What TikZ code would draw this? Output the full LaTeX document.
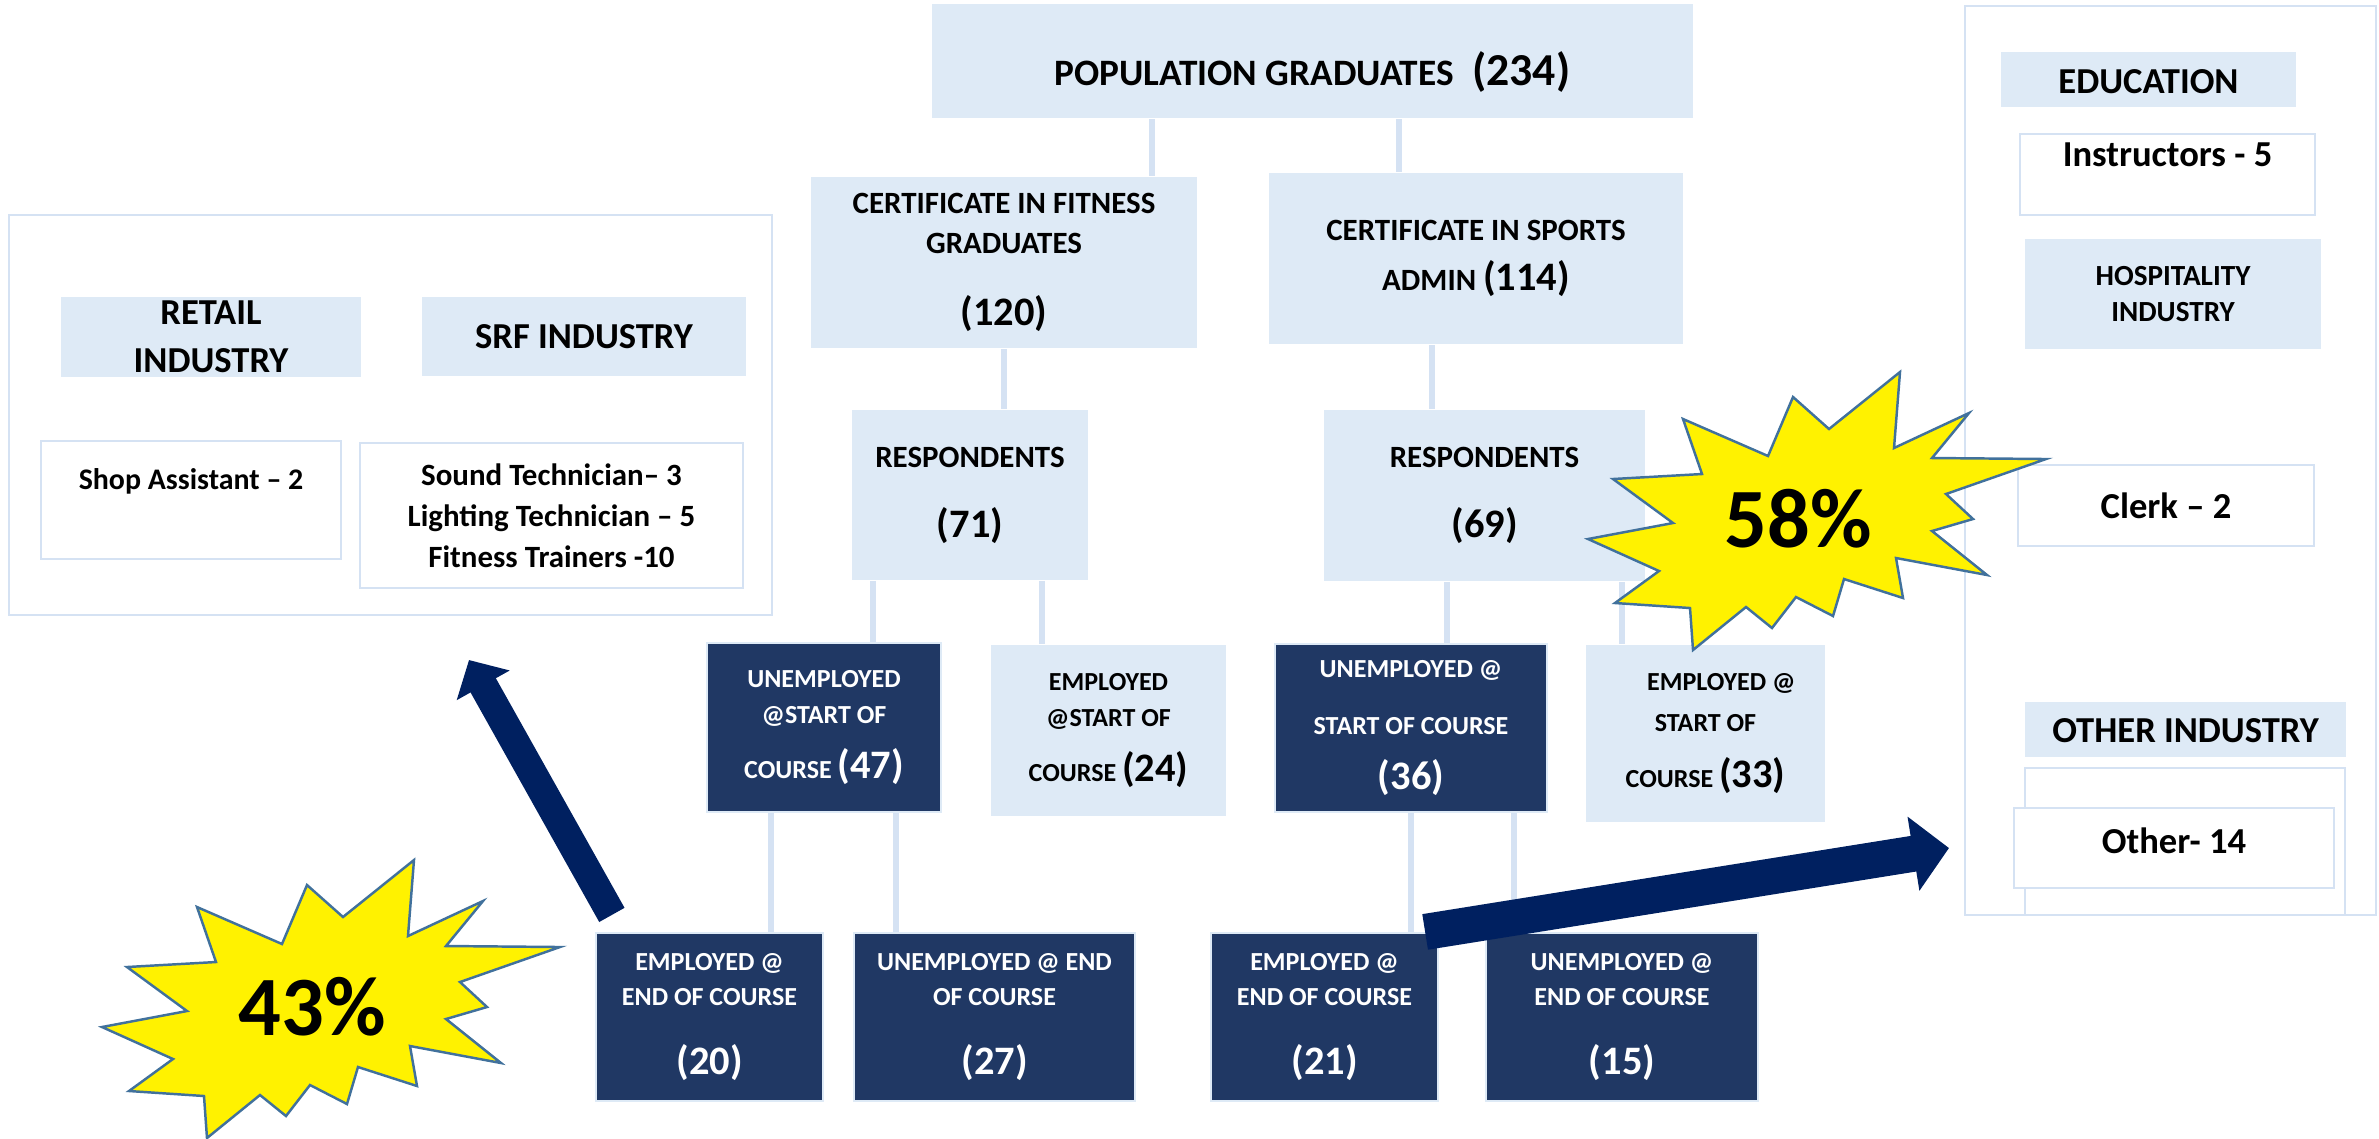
\documentclass[tikz,border=0pt]{standalone}
\usepackage{fontspec}
\setmainfont{Carlito}
\usepackage{tikz}
\usetikzlibrary{arrows.meta}

\definecolor{boxblue}{RGB}{222,234,246}
\definecolor{lineblue}{RGB}{213,226,243}
\definecolor{navybox}{RGB}{32,56,100}
\definecolor{navy}{RGB}{0,32,96}
\definecolor{starline}{RGB}{65,113,156}

\newcommand{\sized}[2]{{\fontsize{#1}{#1}\selectfont #2}}
\newcommand{\burstpath}{(102,-147) -- (96,-71) -- (171,-106) -- (134,-61) -- (248,-60)
  -- (148,-25) -- (175,0) -- (134,12) -- (189,56) -- (98,39) -- (105,79) -- (46,60)
  -- (35,97) -- (-2,78) -- (-26,109) -- (-52,88) -- (-105,131) -- (-108,89) -- (-183,84)
  -- (-139,52) -- (-210,20) -- (-125,4) -- (-185,-40) -- (-96,-45) -- (-115,-100)
  -- (-30,-63) -- (-5,-122) -- (31,-90) -- cycle}

\begin{document}
\begin{tikzpicture}[x=0.01cm, y=-0.01cm,
    lightbox/.style={fill=boxblue, inner sep=0pt, align=center},
    darkbox/.style={fill=navybox, draw=boxblue, line width=0.6pt, text=white, inner sep=0pt, align=center},
    whitebox/.style={fill=white, draw=lineblue, line width=0.6pt, inner sep=0pt, align=center},
    panel/.style={draw=lineblue, line width=0.6pt, inner sep=0pt},
    link/.style={draw=lineblue, line width=1.7pt},
    midtext/.style={font=\bfseries\fontsize{8.8}{11.5}\selectfont},
    smalltext/.style={font=\bfseries\fontsize{7.4}{10}\selectfont},
    headtext/.style={font=\bfseries\fontsize{10.4}{13.7}\selectfont},
    burst/.style={fill=yellow, draw=starline, line width=0.7pt},
    bigarrow/.style={draw=navy}]
    \useasboundingbox (0,0) rectangle (2379,1138);

    % side panels
    \node (retailpanel) [panel, minimum width=7.63cm, minimum height=4cm] at (390.5,415) {};
    \node (jobpanel) [panel, minimum width=4.11cm, minimum height=9.09cm] at (2170.5,460.5) {};

    \node (retail) [lightbox, headtext, minimum width=3cm, minimum height=0.8cm] at (211,337) {RETAIL\\INDUSTRY};
    \node (srf) [lightbox, headtext, minimum width=3.24cm, text height=0.51cm, text depth=0.28cm] at (584,336.5) {SRF INDUSTRY};
    \node (shop) [whitebox, font=\bfseries\fontsize{8.5}{11}\selectfont, minimum width=3cm, text height=0.48cm, text depth=0.7cm] at (191,500) {Shop Assistant – 2};
    \node (srfjobs) [whitebox, font=\bfseries\fontsize{8.8}{11.6}\selectfont, minimum width=3.83cm, minimum height=1.45cm] at (551.5,515.5) {Sound Technician– 3\\Lighting Technician – 5\\Fitness Trainers -10};

    \node (edu) [lightbox, headtext, minimum width=2.95cm, text height=0.41cm, text depth=0.14cm] at (2148.5,79.5) {EDUCATION};
    \node (instr) [whitebox, headtext, minimum width=2.95cm, text height=0.32cm, text depth=0.49cm] at (2167.5,174.5) {Instructors - 5};
    \node (hosp) [lightbox, font=\bfseries\fontsize{8.3}{10.5}\selectfont, minimum width=2.96cm, minimum height=1.1cm] at (2173,294) {HOSPITALITY\\INDUSTRY};
    \node (clerk) [whitebox, headtext, minimum width=2.96cm, text height=0.53cm, text depth=0.28cm] at (2166,505.5) {Clerk – 2};
    \node (other) [lightbox, headtext, minimum width=3.21cm, text height=0.4cm, text depth=0.15cm] at (2185.5,729.5) {OTHER INDUSTRY};
    \node (otherback) [whitebox, minimum width=3.2cm, minimum height=1.47cm] at (2185,841.5) {};
    \node (otherjob) [whitebox, headtext, minimum width=3.2cm, text height=0.45cm, text depth=0.35cm] at (2174,848) {Other- 14};

    % tree
    \node (pop) [lightbox, font=\bfseries\fontsize{10.6}{13}\selectfont, minimum width=7.61cm, text height=0.81cm, text depth=0.33cm] at (1312.5,61) {POPULATION GRADUATES\enspace\sized{13}{(234)}};
    \node (fit) [lightbox, midtext, minimum width=3.86cm, minimum height=1.71cm] at (1004,262.5) {CERTIFICATE IN FITNESS\\GRADUATES\\[9pt]\sized{11.5}{(120)}};
    \node (sport) [lightbox, midtext, minimum width=4.14cm, minimum height=1.71cm] at (1476,258.5) {CERTIFICATE IN SPORTS\\[2.9pt]ADMIN \sized{11.5}{(114)}};
    \node (resp1) [lightbox, midtext, minimum width=2.36cm, minimum height=1.7cm] at (970,495) {RESPONDENTS\\[8.4pt]\sized{11.5}{(71)}};
    \node (resp2) [lightbox, midtext, minimum width=3.21cm, minimum height=1.71cm] at (1484.5,495.5) {RESPONDENTS\\[8.4pt]\sized{11.5}{(69)}};

    \node (u1) [darkbox, smalltext, minimum width=2.34cm, minimum height=1.69cm] at (824,727.5) {UNEMPLOYED\\@START OF\\[5.6pt]COURSE \sized{11.5}{(47)}};
    \node (e1) [lightbox, smalltext, minimum width=2.35cm, minimum height=1.71cm] at (1108.5,730.5) {EMPLOYED\\@START OF\\[5.6pt]COURSE \sized{11.5}{(24)}};
    \node (u2) [darkbox, smalltext, minimum width=2.72cm, minimum height=1.68cm] at (1411,728) {UNEMPLOYED @\\[6pt]START OF COURSE\\[5.6pt]\sized{11.5}{(36)}};
    \node (e2) [lightbox, smalltext, minimum width=2.39cm, minimum height=1.77cm] at (1705.5,733.5) {\hspace*{9pt}EMPLOYED @\\[1.8pt]START OF\\[5.9pt]COURSE \sized{11.5}{(33)}};

    \node (ee1) [darkbox, smalltext, minimum width=2.27cm, minimum height=1.68cm] at (709.5,1017) {EMPLOYED @\\END OF COURSE\\[9.5pt]\sized{11.5}{(20)}};
    \node (ue1) [darkbox, smalltext, minimum width=2.81cm, minimum height=1.68cm] at (994.5,1017) {UNEMPLOYED @ END\\OF COURSE\\[9.5pt]\sized{11.5}{(27)}};
    \node (ee2) [darkbox, smalltext, minimum width=2.27cm, minimum height=1.68cm] at (1324.5,1017) {EMPLOYED @\\END OF COURSE\\[9.5pt]\sized{11.5}{(21)}};
    \node (ue2) [darkbox, smalltext, minimum width=2.72cm, minimum height=1.68cm] at (1622,1017) {UNEMPLOYED @\\END OF COURSE\\[9.5pt]\sized{11.5}{(15)}};

    \draw[link] (pop.south -| 1152,0) -- (fit.north -| 1152,0);
    \draw[link] (pop.south -| 1399,0) -- (sport.north -| 1399,0);
    \draw[link] (fit.south) -- (resp1.north -| fit.south);
    \draw[link] (sport.south -| 1432,0) -- (resp2.north -| 1432,0);
    \draw[link] (resp1.south -| 873,0) -- (u1.north -| 873,0);
    \draw[link] (resp1.south -| 1042,0) -- (e1.north -| 1042,0);
    \draw[link] (resp2.south -| 1447,0) -- (u2.north -| 1447,0);
    \draw[link] (resp2.south -| 1622,0) -- (e2.north -| 1622,0);
    \draw[link] (u1.south -| 771,0) -- (ee1.north -| 771,0);
    \draw[link] (u1.south -| 896,0) -- (ue1.north -| 896,0);
    \draw[link] (u2.south -| 1411,0) -- (ee2.north -| 1411,0);
    \draw[link] (u2.south -| 1514,0) -- (ue2.north -| 1514,0);

    % arrows out to the industries
    \coordinate (retailtip) at (469,660);
    \coordinate (othertip) at (1949,848);
    \draw[bigarrow, line width=0.29cm, -{Triangle[length=0.29cm, width=0.59cm]}] ([shift={(17,-17)}]ee1.north west) -- (retailtip);
    \draw[bigarrow, line width=0.36cm, -{Triangle[length=0.36cm, width=0.73cm]}] ([shift={(-14,0)}]ee2.north east) -- (othertip);

    % stars
    \draw[burst, shift={(312,1007)}] \burstpath;
    \node (pct43) [font=\bfseries\fontsize{24}{24}\selectfont] at (312,1007) {43\%};
    \draw[burst, shift={(1798,519)}] \burstpath;
    \node (pct58) [font=\bfseries\fontsize{24}{24}\selectfont] at (1798,519) {58\%};
\end{tikzpicture}
\end{document}
